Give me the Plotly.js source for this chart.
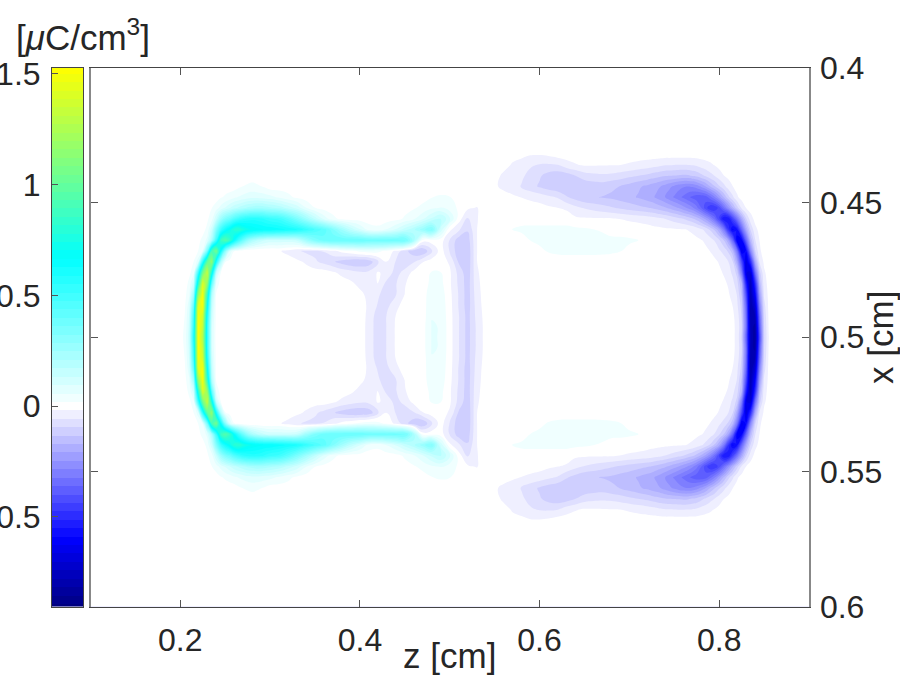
<!DOCTYPE html>
<html><head><meta charset="utf-8">
<script src="https://cdn.plot.ly/plotly-3.0.1.min.js"></script>
<style>html,body{margin:0;padding:0;background:#fff}#c{width:900px;height:675px}</style>
</head><body><div id="c"></div>
<script>
// z positions of the grid columns [cm]
const zCols=[.09,.2,.205,.21,.215,.22,.225,.23,.235,.24,.245,.25,.255,.26,.265,.27,.275,.28,.285,.29,.295,.3,
.31,.32,.33,.34,.35,.36,.37,.38,.39,.4,.41,.42,.43,.44,.45,.46,.47,.48,.49,
.5,.51,.52,.53,.54,.55,.56,.57,.58,.59,.6,.61,.62,.63,.64,.65,.66,.67,.68,.69,.7,.71,.72,
.725,.73,.735,.74,.745,.75,.755,.76,.765,.77,.775,.78,.785,.79,.795,.8,.805,.81,.815,.82,.825,.83,.835,.84,.845,.85,.855,.86,.91];
// x positions of the rows [cm], upper half; the field mirrors about x = 0.5
const xRows=[.39,.432,.436,.44,.444,.448,.452,.456,.46,.464,.468,.472,.476,.48,.484,.488,.492,.496,.5];
const L0=[0,0,0,0,0,0,0,0,0,0,0,0,0,0,0,0,0,0,0,0,0];
const M0=[0,0,0,0,0,0,0,0,0,0,0,0,0,0,0,0,0,0,0];
const R0=[0,0,0,0,0,0,0,0,0,0,0,0,0,0,0,0,0,0,0,0,0,0,0,0,0,0,0,0];
const rt=[0,...L0,...M0,...M0,0,0,0,0,...R0,0];
const r0=[0,...L0,...M0,0,0,0,0,0,0,0,0,-.005,-.015,-.015,-.01,0,0,0,0,0,0,0,0,0,0,0,...R0,0];
const r1=[0,...L0,...M0,0,0,0,0,0,0,0,-.025,-.04,-.052,-.06,-.062,-.058,-.035,-.022,-.015,-.015,-.016,-.017,-.019,-.024,-.03,-.036,
-.04,-.044,-.05,-.055,-.055,-.057,-.058,-.058,-.057,-.055,-.05,-.04,-.032,-.025,-.017,-.008,0,0,0,0,0,0,0,0,0,0,0,0,0];
const r2=[0,...L0,...M0,0,0,0,0,0,0,-.03,-.05,-.05,-.07,-.09,-.11,-.12,-.115,-.095,-.075,-.068,-.065,-.068,-.075,-.085,-.095,-.105,
-.112,-.118,-.125,-.13,-.133,-.135,-.137,-.14,-.138,-.13,-.122,-.105,-.09,-.07,-.055,-.035,-.02,-.01,0,0,0,0,0,0,0,0,0,0,0];
const r3=[0,0,0,0,0,0,0,0,0,0,0,0,0,0,.012,.02,.025,.03,.025,.02,.012,0,...M0,
0,0,0,0,0,-.012,-.03,-.045,-.06,-.08,-.1,-.115,-.125,-.13,-.13,-.125,-.118,-.115,-.125,-.135,-.15,-.165,-.18,
-.19,-.2,-.21,-.225,-.24,-.255,-.27,-.28,-.285,-.28,-.265,-.24,-.21,-.17,-.135,-.1,-.07,-.04,-.02,-.005,0,0,0,0,0,0,0,0,0];
const r4=[0,0,0,0,0,0,0,0,0,0,.015,.025,.035,.05,.06,.07,.08,.085,.085,.08,.075,.07,
.05,.03,.01,0,0,0,0,0,0,0,0,0,0,0,0,0,.005,.018,.024,
.02,.012,0,0,0,0,0,-.01,-.02,-.028,-.035,-.048,-.06,-.09,-.11,-.125,-.13,-.135,-.14,-.15,-.16,-.175,-.19,
-.2,-.215,-.23,-.25,-.27,-.29,-.31,-.33,-.35,-.37,-.385,-.39,-.38,-.34,-.29,-.23,-.17,-.11,-.065,-.025,-.005,0,0,0,0,0,0,0,0];
const r5=[0,0,0,0,0,0,0,.005,.018,.04,.07,.1,.13,.16,.18,.2,.22,.23,.24,.24,.23,.22,
.2,.16,.12,.06,.02,.005,0,0,0,0,0,0,0,0,.005,.015,.03,.05,.06,
.04,.012,-.012,-.022,0,0,0,0,0,0,-.005,-.012,-.018,-.025,-.045,-.06,-.07,-.08,-.09,-.1,-.11,-.12,-.13,
-.135,-.145,-.155,-.165,-.18,-.195,-.21,-.23,-.25,-.275,-.31,-.36,-.42,-.47,-.47,-.42,-.34,-.26,-.18,-.11,-.05,-.018,-.004,0,0,0,0,0,0];
const r6=[0,0,0,0,0,0,0,.012,.04,.13,.25,.33,.38,.45,.5,.54,.56,.57,.57,.56,.54,.52,
.5,.43,.34,.25,.16,.08,.03,.008,0,0,0,0,0,.005,.025,.05,.09,.14,.18,
.1,0,-.06,-.022,0,0,0,0,0,0,0,0,0,0,-.012,-.014,-.015,-.015,-.015,-.02,-.025,-.03,-.035,
-.04,-.045,-.05,-.058,-.065,-.075,-.085,-.095,-.11,-.125,-.15,-.18,-.22,-.27,-.34,-.44,-.55,-.55,-.44,-.32,-.2,-.1,-.035,-.008,0,0,0,0,0];
const r7=[0,0,0,0,0,0,.005,.03,.12,.32,.5,.62,.7,.8,.82,.76,.72,.7,.68,.67,.66,.66,
.64,.62,.59,.53,.47,.42,.33,.24,.16,.1,.04,.03,.06,.1,.15,.2,.27,.33,.12,
-.01,-.05,-.09,-.02,0,0,0,.02,.028,.03,.03,.03,.03,.03,.028,.025,.02,.015,0,0,0,0,-.005,
-.007,-.009,-.01,-.012,-.013,-.014,-.015,-.017,-.02,-.025,-.035,-.05,-.07,-.1,-.14,-.2,-.3,-.47,-.6,-.55,-.36,-.2,-.09,-.03,-.008,0,0,0,0];
const r8=[0,0,0,0,0,.008,.03,.07,.22,.5,.85,.95,.85,.65,.5,.38,.28,.22,.18,.15,.13,.12,
.12,.12,.14,.24,.33,.38,.4,.4,.4,.4,.38,.38,.38,.38,.38,.22,0,0,0,
-.06,-.115,-.115,-.02,0,0,0,0,0,.02,.026,.03,.03,.03,.03,.03,.03,.03,.03,.028,.024,.019,.005,
0,0,0,0,0,0,-.002,-.004,-.006,-.009,-.012,-.017,-.025,-.04,-.06,-.09,-.13,-.2,-.35,-.62,-.6,-.36,-.16,-.06,-.018,-.004,0,0,0];
const r9=[0,0,0,0,0,.02,.06,.35,.9,1.05,.65,.3,.1,.02,.005,-.01,-.015,-.015,-.015,-.015,-.015,-.015,
-.015,-.03,-.05,-.065,-.07,-.055,-.03,-.005,.01,.03,.04,.03,.01,-.03,-.08,-.12,-.13,-.06,0,
-.06,-.12,-.125,-.02,0,0,0,0,0,0,.012,.022,.028,.03,.03,.03,.03,.028,.025,.02,.01,0,0,
0,0,0,0,0,0,0,0,0,0,0,-.006,-.012,-.02,-.03,-.05,-.07,-.1,-.16,-.32,-.64,-.58,-.28,-.1,-.025,-.005,0,0,0];
const r10=[0,0,0,0,.02,.08,.55,1,1.15,.6,.2,.02,0,0,0,0,0,0,0,0,0,0,
0,0,-.01,-.025,-.05,-.07,-.09,-.11,-.125,-.13,-.12,-.06,-.02,-.06,-.09,-.06,-.02,0,0,
-.025,-.1,-.125,-.02,...M0,
0,0,0,0,0,0,0,0,0,0,0,0,0,0,-.012,-.022,-.035,-.055,-.09,-.2,-.42,-.68,-.5,-.2,-.05,-.012,0,0,0];
const r11=[0,0,0,.01,.04,.5,1.05,1.3,.75,.15,.02,0,0,0,0,0,0,0,0,0,0,0,
0,0,0,0,0,0,-.012,-.03,-.04,-.05,-.045,-.015,-.03,-.075,-.04,-.008,0,.022,.02,
-.012,-.07,-.12,-.025,...M0,
0,0,0,0,0,0,0,0,0,0,0,0,0,0,0,-.012,-.022,-.04,-.065,-.11,-.3,-.66,-.7,-.34,-.11,-.025,-.005,0,0];
const r12=[0,0,0,.03,.12,.8,1.38,1.15,.4,.05,0,0,0,0,0,0,0,0,0,0,0,0,
0,0,0,0,0,0,0,0,-.012,-.03,-.03,-.018,-.07,-.06,-.022,0,0,.03,.03,
-.012,-.065,-.115,-.03,...M0,
0,0,0,0,0,0,0,0,0,0,0,0,0,0,0,0,-.012,-.022,-.045,-.08,-.17,-.52,-.78,-.5,-.16,-.035,-.008,0,0];
const r13=[0,0,.005,.05,.25,1.15,1.45,.85,.2,.015,0,0,0,0,0,0,0,0,0,0,0,0,
0,0,0,0,0,0,0,0,0,-.01,-.03,-.05,-.08,-.06,-.018,0,0,.045,.04,
-.008,-.06,-.115,-.035,...M0,
0,0,0,0,0,0,0,0,0,0,0,0,0,0,0,0,0,-.015,-.03,-.06,-.14,-.42,-.8,-.6,-.22,-.05,-.01,0,0];
const r14=[0,0,.012,.08,.4,1.38,1.45,.7,.15,.005,0,0,0,0,0,0,0,0,0,0,0,0,
0,0,0,0,0,0,0,0,0,-.005,-.025,-.06,-.07,-.03,-.005,0,0,.05,.045,
-.005,-.06,-.115,-.04,...M0,
0,0,0,0,0,0,0,0,0,0,0,0,0,0,0,0,0,-.008,-.02,-.05,-.11,-.36,-.82,-.7,-.28,-.07,-.012,0,0];
const r15=[0,0,.02,.1,.5,1.45,1.35,.6,.12,.005,0,0,0,0,0,0,0,0,0,0,0,0,
0,0,0,0,0,0,0,0,0,-.005,-.027,-.08,-.055,-.018,-.002,0,0,.055,.05,
-.004,-.055,-.11,-.045,-.003,0,0,0,0,0,0,0,0,0,0,0,0,0,0,0,0,0,0,
0,0,0,0,0,0,0,0,0,0,0,0,0,0,0,0,0,0,-.012,-.035,-.1,-.33,-.82,-.78,-.34,-.085,-.015,0,0];
const r16=[0,0,.025,.11,.55,1.48,1.3,.55,.1,.005,0,0,0,0,0,0,0,0,0,0,0,0,
0,0,0,0,0,0,0,0,0,-.006,-.028,-.085,-.055,-.014,0,0,.003,.06,.055,
-.003,-.055,-.11,-.05,-.004,0,0,0,0,0,0,0,0,0,0,0,0,0,0,0,0,0,0,
0,0,0,0,0,0,0,0,0,0,0,0,0,0,0,0,0,0,-.01,-.03,-.09,-.32,-.8,-.83,-.38,-.095,-.018,0,0];
const r17=[0,0,.03,.12,.6,1.48,1.25,.55,.1,0,0,0,0,0,0,0,0,0,0,0,0,0,
0,0,0,0,0,0,0,0,0,-.006,-.028,-.085,-.055,-.014,0,0,.003,.06,.055,
-.003,-.055,-.11,-.05,-.004,0,0,0,0,0,0,0,0,0,0,0,0,0,0,0,0,0,0,
0,0,0,0,0,0,0,0,0,0,0,0,0,0,0,0,0,0,-.01,-.03,-.1,-.35,-.78,-.85,-.42,-.1,-.02,0,0];
const upperRows=[rt,r0,r1,r2,r3,r4,r5,r6,r7,r8,r9,r10,r11,r12,r13,r14,r15,r16,r17];

const cbTickVals=[-.5,0,.5,1,1.5];
const cbTickText=['-0.5','0','0.5','1','1.5'];
const zTicks=[.2,.4,.6,.8];
const zTickText=['0.2','0.4','0.6','0.8'];
const xTicks=[.4,.45,.5,.55,.6];
const xTickText=['0.4','0.45','0.5','0.55','0.6'];

const ZMIN=-.905, ZMAX=1.527, STEP=.038, LSTART=-.893, LEND=1.5;
const pos=v=>(v-ZMIN)/(ZMAX-ZMIN);
const cmap=[[0,'rgb(0,0,128)'],[pos(-.6),'rgb(0,0,255)'],[pos(0),'rgb(255,255,255)'],
  [pos(.667),'rgb(0,255,255)'],[pos(1.097),'rgb(128,255,128)'],[1,'rgb(255,255,0)']];
// contour fills sit half a level off the scale span, so the stops carry that offset
const LTOP=LSTART+(Math.floor((LEND-LSTART)/STEP)+1)*STEP;
const posC=v=>(v+STEP/2-LSTART)/(LTOP-LSTART);
const cmapC=[[0,'rgb(0,0,133)'],[posC(-.6),'rgb(0,0,255)'],[posC(0),'rgb(255,255,255)'],
  [posC(.667),'rgb(0,255,255)'],[posC(1.097),'rgb(128,255,128)'],[1,'rgb(255,255,0)']];

const xAll=xRows.concat(xRows.slice(0,-1).reverse().map(v=>+(1-v).toFixed(3)));
const zAll=upperRows.concat(upperRows.slice(0,-1).reverse());

const cbLevels=[];for(let k=-24;k<=40;k++)cbLevels.push(+(k*STEP).toFixed(3));

const W=900,H=675,TXT='#262626',FS=32,FT=35,FAM='"Liberation Sans",Arial,sans-serif';
const main={type:'contour',x:zCols,y:xAll,z:zAll,zmin:ZMIN,zmax:ZMAX,colorscale:cmapC,showscale:false,
  autocontour:false,contours:{coloring:'fill',showlines:false,start:LSTART,end:LEND,size:STEP},
  line:{width:0,smoothing:1.3},hoverinfo:'skip'};
const bar={type:'heatmap',x:[0,1],y:cbLevels,z:cbLevels.map(v=>[v,v]),zmin:ZMIN,zmax:ZMAX,colorscale:cmap,showscale:false,
  xaxis:'x2',yaxis:'y2',hoverinfo:'skip',zsmooth:false};
const layout={width:W,height:H,margin:{l:0,r:0,t:0,b:0},paper_bgcolor:'#fff',plot_bgcolor:'#fff',showlegend:false,
  font:{family:FAM,size:FS,color:TXT},
  xaxis:{domain:[90.5/W,809/W],range:[.1,.9],tickmode:'array',tickvals:zTicks,ticktext:zTickText,ticks:'inside',ticklen:7,tickwidth:1,tickcolor:'#555',
    showgrid:false,zeroline:false,showline:true,linecolor:'#444',linewidth:1,mirror:'ticks',anchor:'y',ticklabelstandoff:5,
    title:{text:'z [cm]',standoff:0,font:{size:FT,color:TXT}}},
  yaxis:{domain:[1-606.5/H,1-68/H],range:[.6,.4],side:'right',tickmode:'array',tickvals:xTicks,ticktext:xTickText,ticks:'inside',ticklen:7,tickwidth:1,tickcolor:'#555',
    showgrid:false,zeroline:false,showline:true,linecolor:'#888',linewidth:1.5,mirror:'ticks',anchor:'x',ticklabelstandoff:3,
    title:{text:'x [cm]',standoff:0,font:{size:FT,color:TXT}}},
  xaxis2:{domain:[52/W,83/W],range:[0,1],showticklabels:false,ticks:'',showgrid:false,zeroline:false,showline:true,linecolor:'#444',linewidth:1,mirror:true,anchor:'y2'},
  yaxis2:{domain:[1-606.5/H,1-68/H],range:[ZMIN,ZMAX],side:'left',tickmode:'array',tickvals:cbTickVals,ticktext:cbTickText,ticks:'inside',ticklen:6,tickwidth:1,tickcolor:'#555',
    showgrid:false,zeroline:false,showline:true,linecolor:'#444',linewidth:1,mirror:true,anchor:'x2',ticklabelstandoff:4},
  annotations:[{xref:'paper',yref:'paper',x:83/W,y:1-35/H,xanchor:'center',yanchor:'middle',showarrow:false,
    text:'[<i>μ</i>C/cm<sup>3</sup>]',font:{family:FAM,size:FT,color:TXT}}]};
Plotly.newPlot('c',[main,bar],layout,{staticPlot:true,displayModeBar:false});
</script></body></html>
